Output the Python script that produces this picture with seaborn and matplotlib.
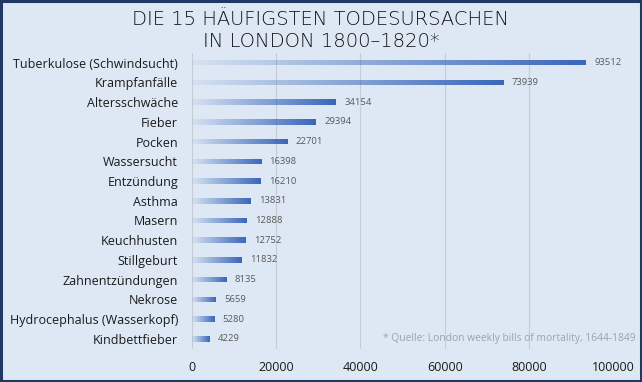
import numpy as np
import pandas as pd
import matplotlib
matplotlib.use("Agg")
import matplotlib.pyplot as plt
import seaborn as sns
from matplotlib.patches import Rectangle

# data
causes = [
    "Tuberkulose (Schwindsucht)", "Krampfanfälle", "Altersschwäche", "Fieber",
    "Pocken", "Wassersucht", "Entzündung", "Asthma", "Masern", "Keuchhusten",
    "Stillgeburt", "Zahnentzündungen", "Nekrose", "Hydrocephalus (Wasserkopf)",
    "Kindbettfieber",
]
deaths = [93512, 73939, 34154, 29394, 22701, 16398, 16210, 13831, 12888,
          12752, 11832, 8135, 5659, 5280, 4229]
x_ticks = [0, 20000, 40000, 60000, 80000, 100000]

df = pd.DataFrame({"cause": causes, "deaths": deaths})

bg = "#dde8f4"
blue = np.array([0.22, 0.40, 0.73])

sns.set_theme(style="white")
plt.rcParams["font.family"] = ["Open Sans", "DejaVu Sans"]

fig = plt.figure(figsize=(6.42, 3.82), dpi=100, facecolor=bg)
ax = fig.add_axes([0.299, 0.087, 0.656, 0.775])
ax.set_facecolor(bg)

sns.barplot(data=df, x="deaths", y="cause", orient="h", width=0.28,
            color="#4472c4", ax=ax, zorder=3)

# replace the flat bars with a left-to-right fade
grad = np.zeros((1, 256, 4))
grad[..., :3] = blue
grad[..., 3] = np.linspace(0.05, 1.0, 256)
for p in ax.patches:
    x0, y0, w, h = p.get_x(), p.get_y(), p.get_width(), p.get_height()
    p.set_alpha(0)
    im = ax.imshow(grad, extent=[x0, x0 + w, y0 + h, y0], aspect="auto",
                   interpolation="bicubic", zorder=3)
    im.set_clip_path(Rectangle((x0, y0), w, h, transform=ax.transData))
    ax.text(x0 + w + 2000, y0 + h / 2, str(int(w)), va="center", ha="left",
            fontsize=6.8, color="#595959", zorder=4)

ax.set_xlim(0, 100000)
ax.set_ylim(14.5, -0.5)
ax.set_xticks(x_ticks)
ax.set_xticklabels([str(t) for t in x_ticks], fontsize=9, color="#1a1a1a")
ax.tick_params(axis="x", length=0, pad=9)
ax.tick_params(axis="y", length=0, pad=10, labelsize=9, labelcolor="#1a1a1a")
ax.set_xlabel("")
ax.set_ylabel("")
ax.grid(axis="x", color="#c5ccd4", linewidth=0.8, zorder=0)
ax.set_axisbelow(True)
sns.despine(ax=ax, left=True, bottom=True)

title_font = dict(ha="center", va="baseline", fontsize=14, color="#111111",
                  family=["DejaVu Sans"], fontweight="light")
fig.text(0.5, 0.935, "DIE 15 HÄUFIGSTEN TODESURSACHEN", **title_font)
fig.text(0.5, 0.877, "IN LONDON 1800–1820*", **title_font)

fig.text(0.99, 0.115, "* Quelle: London weekly bills of mortality, 1644-1849",
         ha="right", va="center", fontsize=7.4, color="#9aa3ad")

# dark frame round the whole picture
fig.patches.append(Rectangle((0.002, 0.003), 0.996, 0.994, transform=fig.transFigure,
                             fill=False, edgecolor="#1f3864", linewidth=2.2))

fig.savefig("out.png", dpi=100, facecolor=bg)
